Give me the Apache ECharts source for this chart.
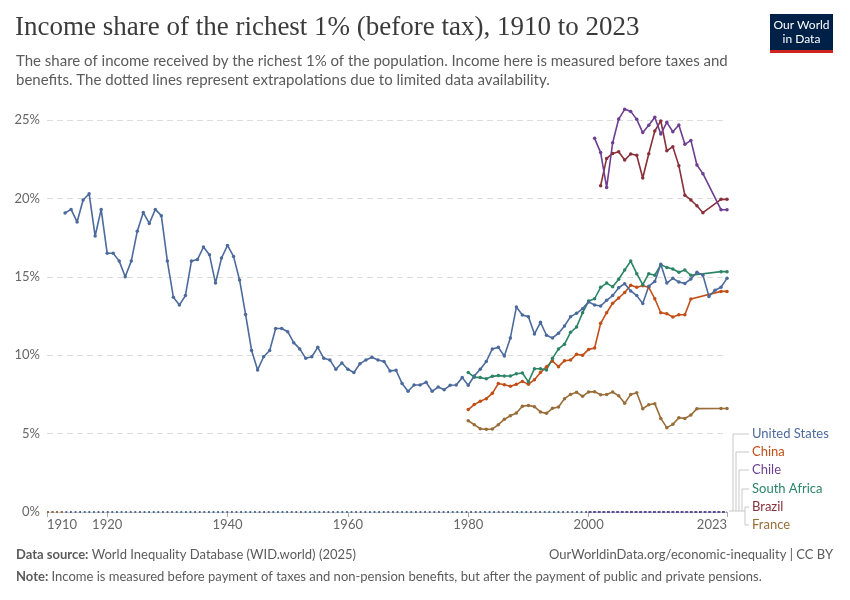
<!DOCTYPE html>
<html>
<head>
<meta charset="utf-8">
<script src="https://cdn.jsdelivr.net/npm/echarts@6/dist/echarts.min.js"></script>
<style>
  html, body { margin: 0; padding: 0; background: #fff; }
  #main { width: 850px; height: 600px; }
</style>
</head>
<body>
<div id="main"></div>
<script>
// 数据：前1%人群收入占比（税前），%
var usStart = 1913;
var usValues = [19.07, 19.3, 18.5, 19.9, 20.3, 17.6, 19.3, 16.5, 16.5, 16.0,
    15.0, 16.0, 17.9, 19.1, 18.4, 19.3, 18.9, 16.0, 13.7, 13.2,
    13.8, 16.0, 16.1, 16.9, 16.4, 14.6, 16.2, 17.0, 16.3, 14.8,
    12.6, 10.3, 9.06, 9.9, 10.3, 11.7, 11.7, 11.5, 10.8, 10.4,
    9.8, 9.9, 10.5, 9.8, 9.7, 9.1, 9.5, 9.1, 8.9, 9.45,
    9.7, 9.87, 9.7, 9.6, 9.0, 9.04, 8.2, 7.7, 8.1, 8.1,
    8.27, 7.7, 7.97, 7.8, 8.08, 8.1, 8.57, 8.08, 8.67, 9.1,
    9.6, 10.4, 10.5, 9.95, 11.1, 13.07, 12.56, 12.46, 11.35, 12.1,
    11.27, 11.1, 11.4, 11.86, 12.46, 12.67, 12.97, 13.4, 13.2, 13.14,
    13.5, 13.8, 14.3, 14.56, 14.1, 13.8, 13.3, 14.4, 14.7, 15.8,
    14.6, 14.9, 14.67, 14.58, 14.86, 15.29, 15.1, 13.75, 14.14, 14.33,
    14.9];

var chinaStart = 1980;
var chinaValues = [6.53, 6.85, 7.06, 7.23, 7.57, 8.19, 8.12, 8.02, 8.14, 8.33,
    8.14, 8.44, 8.89, 9.27, 9.63, 9.27, 9.65, 9.69, 10.06, 9.99,
    10.37, 10.46, 12.03, 12.71, 13.31, 13.65, 14.0, 14.46, 14.33, 14.43,
    14.33, 13.6, 12.71, 12.65, 12.44, 12.58, 12.58, 13.58, null, null,
    null, null, 14.07, 14.07];

var safricaStart = 1980;
var safricaValues = [8.9, 8.6, 8.57, 8.5, 8.65, 8.7, 8.67, 8.67, 8.82, 8.86,
    8.3, 9.14, 9.14, 9.06, 9.8, 10.4, 10.7, 11.46, 11.8, 12.7,
    13.45, 13.6, 14.33, 14.6, 14.36, 14.84, 15.43, 16.0, 15.2, 14.5,
    15.2, 15.1, 15.77, 15.6, 15.5, 15.29, 15.43, 15.1, null, null,
    null, null, 15.33, 15.33];

var franceStart = 1980;
var franceValues = [5.82, 5.57, 5.31, 5.27, 5.29, 5.57, 5.91, 6.14, 6.31, 6.74,
    6.8, 6.72, 6.38, 6.29, 6.61, 6.7, 7.23, 7.5, 7.63, 7.38,
    7.66, 7.67, 7.48, 7.49, 7.65, 7.41, 6.93, 7.5, 7.61, 6.59,
    6.84, 6.91, 5.97, 5.38, 5.59, 6.01, 5.97, 6.19, 6.59, null,
    null, null, 6.6, 6.6];

var chileStart = 2001;
var chileValues = [23.83, 22.92, 20.7, 23.55, 25.06, 25.68, 25.55, 25.04, 24.2, 24.66,
    25.17, 24.1, 24.85, 24.25, 24.68, 23.45, 23.7, 22.13, 21.58, null,
    null, 19.28, 19.28];

var brazilStart = 2002;
var brazilValues = [20.81, 22.55, 22.87, 22.98, 22.45, 22.83, 22.75, 21.3, 22.85, 24.3,
    24.94, 23.04, 23.3, 22.09, 20.2, 19.9, 19.53, 19.09, null, null,
    19.94, 19.94];

// 外推（虚线）在0%处的年份范围
var usDotted = [1910, 2023];
var franceDotted = [1910, 1913];
var chileDotted = [2000, 2023];

var xTicks = [1910, 1920, 1940, 1960, 1980, 2000, 2023];

var colors = {
    us: '#4c6a9c', china: '#c24e17', chile: '#6d3e91',
    safrica: '#2c8465', brazil: '#883039', france: '#996d39'
};

function toPairs(start, values) {
    var out = [];
    for (var i = 0; i < values.length; i++) {
        out.push([start + i, values[i]]);
    }
    return out;
}
function dottedPairs(range) {
    return [[range[0], 0], [range[1], 0]];
}
function lineSeries(name, color, data) {
    return {
        name: name, type: 'line', data: data, connectNulls: true,
        clip: false, showSymbol: true, symbol: 'circle', symbolSize: 3.5,
        itemStyle: { color: color }, lineStyle: { color: color, width: 1.6 },
        emphasis: { disabled: true }, animation: false
    };
}
function dottedSeries(color, range) {
    return {
        type: 'line', data: dottedPairs(range), symbol: 'none', clip: false, z: 3,
        lineStyle: { color: color, width: 1.8, type: [1.8, 2.8] },
        emphasis: { disabled: true }, animation: false
    };
}

var font = 'Lato, "Noto Sans", sans-serif';
var legendNames = ['United States', 'China', 'Chile', 'South Africa', 'Brazil', 'France'];
var legendColors = [colors.us, colors.china, colors.chile, colors.safrica, colors.brazil, colors.france];
var legendY = [434, 452, 470, 489, 507, 525];
var connectorX = [733, 736, 739, 742, 745, 745];

var graphics = [
    { type: 'text', left: 15, top: 14, style: { text: 'Income share of the richest 1% (before tax), 1910 to 2023',
        font: '27px "Liberation Serif", "DejaVu Serif", serif', fill: '#3b3b3b' } },
    { type: 'text', left: 16, top: 52, style: { text: 'The share of income received by the richest 1% of the population. Income here is measured before taxes and\nbenefits. The dotted lines represent extrapolations due to limited data availability.',
        font: '15px ' + font, fill: '#5b5b5b', lineHeight: 19 } },
    { type: 'rect', shape: { x: 770, y: 14, width: 63, height: 36 }, style: { fill: '#002147' } },
    { type: 'rect', shape: { x: 770, y: 50, width: 63, height: 3 }, style: { fill: '#ce261e' } },
    { type: 'text', x: 801.5, y: 32, style: { text: 'Our World\nin Data', font: '12px ' + font, fill: '#fff',
        align: 'center', verticalAlign: 'middle', lineHeight: 14 } },
    { type: 'text', left: 16, top: 548, style: { rich: { b: { fontWeight: 'bold', fontFamily: 'Lato', fontSize: 13, fill: '#5b5b5b' },
        n: { fontFamily: 'Lato', fontSize: 13, fill: '#5b5b5b' } },
        text: '{b|Data source:} {n|World Inequality Database (WID.world) (2025)}' } },
    { type: 'text', right: 17, top: 548, style: { text: 'OurWorldinData.org/economic-inequality | CC BY',
        font: '13px ' + font, fill: '#5b5b5b' } },
    { type: 'text', left: 16, top: 570, style: { rich: { b: { fontWeight: 'bold', fontFamily: 'Lato', fontSize: 13, fill: '#5b5b5b' },
        n: { fontFamily: 'Lato', fontSize: 13, fill: '#5b5b5b' } },
        text: '{b|Note:} {n|Income is measured before payment of taxes and non-pension benefits, but after the payment of public and private pensions.}' } },
    { type: 'polyline', shape: { points: [[729, 511], [745, 511]] }, style: { stroke: '#c8c8c8', lineWidth: 1 } }
];
for (var i = 0; i < legendNames.length; i++) {
    graphics.push({ type: 'polyline', shape: { points: [[connectorX[i], 511], [connectorX[i], legendY[i]], [749, legendY[i]]] },
        style: { stroke: '#c8c8c8', lineWidth: 1, fill: null } });
    graphics.push({ type: 'text', x: 752, y: legendY[i], style: { text: legendNames[i], font: '13px ' + font,
        fill: legendColors[i], verticalAlign: 'middle' } });
}

var myChart = echarts.init(document.getElementById('main'), null, { renderer: 'canvas' });
var option = {
    animation: false,
    backgroundColor: '#fff',
    grid: { left: 47, right: 123, top: 120, bottom: 88 },
    xAxis: {
        type: 'value', min: 1910, max: 2023,
        splitLine: { show: false },
        axisLine: { show: true, lineStyle: { color: '#ccc' } },
        axisTick: { show: true, length: 5, customValues: xTicks, lineStyle: { color: '#aaa' } },
        axisLabel: { customValues: xTicks, color: '#666', fontFamily: 'Lato', fontSize: 13, margin: 6,
            alignMinLabel: 'left', alignMaxLabel: 'right', formatter: function (v) { return String(v); } }
    },
    yAxis: {
        type: 'value', min: 0, max: 25, interval: 5,
        axisLine: { show: false }, axisTick: { show: false },
        splitLine: { lineStyle: { color: '#ddd', type: [6, 4] } },
        axisLabel: { color: '#666', fontFamily: 'Lato', fontSize: 13, margin: 7, formatter: '{value}%' }
    },
    series: [
        dottedSeries(colors.us, usDotted),
        dottedSeries(colors.france, franceDotted),
        dottedSeries(colors.chile, chileDotted),
        lineSeries('France', colors.france, toPairs(franceStart, franceValues)),
        lineSeries('China', colors.china, toPairs(chinaStart, chinaValues)),
        lineSeries('South Africa', colors.safrica, toPairs(safricaStart, safricaValues)),
        lineSeries('United States', colors.us, toPairs(usStart, usValues)),
        lineSeries('Brazil', colors.brazil, toPairs(brazilStart, brazilValues)),
        lineSeries('Chile', colors.chile, toPairs(chileStart, chileValues))
    ],
    graphic: graphics
};
myChart.setOption(option);
</script>
</body>
</html>
